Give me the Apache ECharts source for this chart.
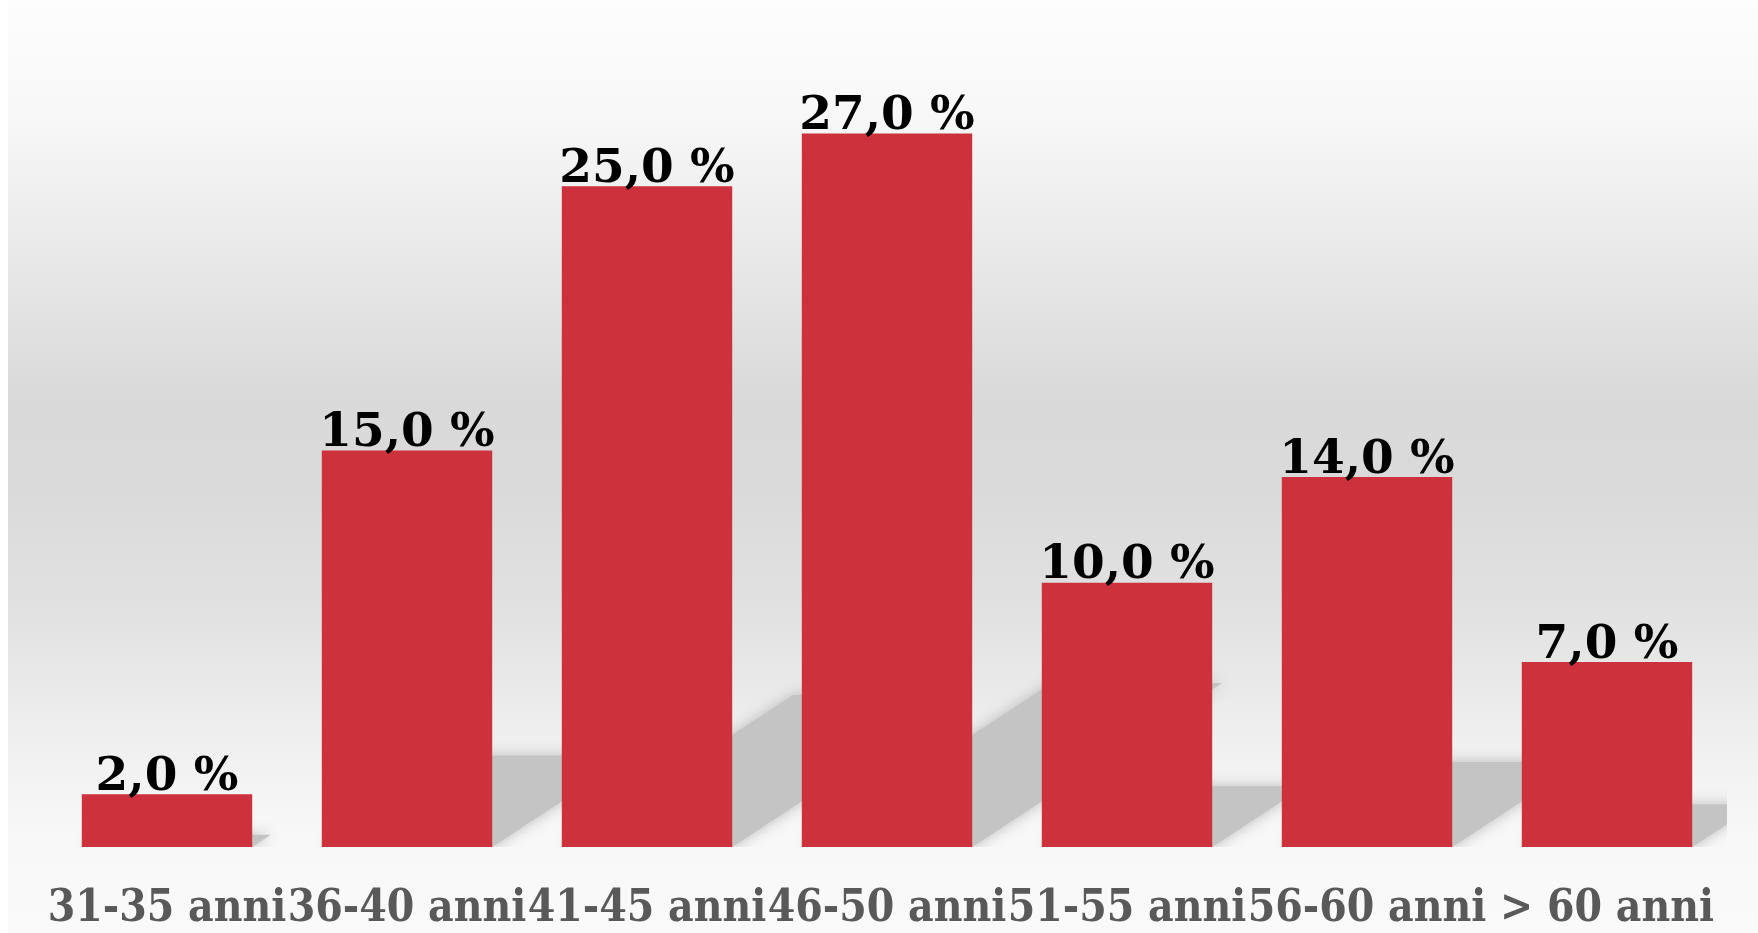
<!DOCTYPE html>
<html>
<head>
<meta charset="utf-8">
<script src="https://cdn.jsdelivr.net/npm/echarts@6/dist/echarts.min.js"></script>
<style>
  html, body { margin: 0; padding: 0; background: #fff; }
  #chart { position: absolute; left: 8px; top: 0; width: 1750px; height: 933px; }
</style>
</head>
<body>
<div id="chart"></div>
<script>
const categories = ['31-35 anni', '36-40 anni', '41-45 anni', '46-50 anni', '51-55 anni', '56-60 anni', '> 60 anni']
const shares = [2.0, 15.0, 25.0, 27.0, 10.0, 14.0, 7.0]

const BAR_RED = '#cd313b'
const GAP = 0.29

// floor shadow cast by each bar, skewed up-right
function renderShadow(params, api) {
  const idx = api.value(0)
  const base = api.coord([idx, 0])
  const top = api.coord([idx, api.value(1)])
  const w = api.size([1, 0])[0] * (1 - GAP)
  const h = base[1] - top[1]
  const x0 = base[0] - w / 2
  const x1 = base[0] + w / 2
  const rise = h * 0.23
  const dx = h * 0.35
  return {
    type: 'polygon',
    shape: {
      points: [
        [x0, base[1]],
        [x1, base[1]],
        [x1 + dx, base[1] - rise],
        [x0 + dx, base[1] - rise],
      ],
    },
    style: { fill: '#c4c4c4', shadowBlur: 14, shadowColor: 'rgba(180,180,180,0.9)' },
  }
}

const chart = echarts.init(document.getElementById('chart'))
chart.setOption({
  backgroundColor: {
    type: 'linear', x: 0, y: 0, x2: 0, y2: 1,
    colorStops: [
      { offset: 0, color: '#fdfdfd' },
      { offset: 0.12, color: '#f8f8f8' },
      { offset: 0.25, color: '#ebebeb' },
      { offset: 0.43, color: '#d9d9d9' },
      { offset: 0.52, color: '#dadada' },
      { offset: 0.65, color: '#e1e1e1' },
      { offset: 0.8, color: '#f0f0f0' },
      { offset: 0.9, color: '#f8f8f8' },
      { offset: 1, color: '#fafafa' },
    ],
  },
  animation: false,
  grid: { left: 39, right: 31, top: 107, bottom: 86 },
  xAxis: {
    type: 'category',
    data: categories,
    axisLine: { show: false },
    axisTick: { show: false },
    axisLabel: {
      interval: 0,
      margin: 41,
      color: '#595959',
      fontFamily: '"DejaVu Serif Condensed", "DejaVu Serif", serif',
      fontWeight: 'bold',
      fontSize: 44,
    },
  },
  yAxis: { type: 'value', min: 0, max: 28, show: false, splitLine: { show: false } },
  series: [
    {
      type: 'custom',
      renderItem: renderShadow,
      data: shares.map((v, i) => [i, v]),
      encode: { x: 0, y: 1 },
      clip: true,
      silent: true,
      z: 1,
    },
    {
      type: 'bar',
      data: shares,
      barCategoryGap: GAP * 100 + '%',
      itemStyle: { color: BAR_RED },
      z: 2,
      label: {
        show: true,
        position: 'top',
        distance: -7,
        color: '#000',
        fontFamily: '"DejaVu Serif", serif',
        fontWeight: 'bold',
        fontSize: 47,
        formatter: (p) => p.value.toFixed(1).replace('.', ',') + ' %',
      },
    },
  ],
})
</script>
</body>
</html>
